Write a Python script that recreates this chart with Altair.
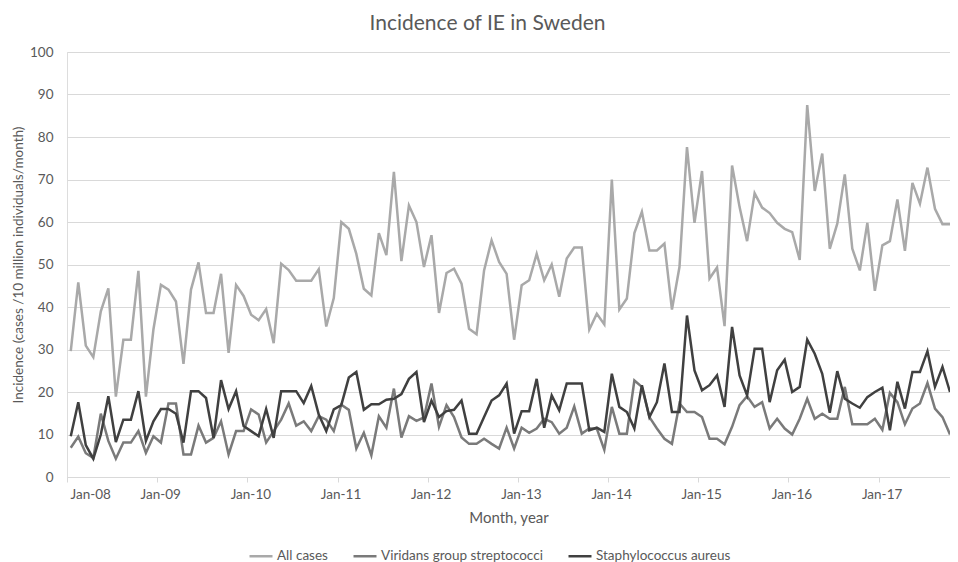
import altair as alt
import pandas as pd

months = list(range(118))

all_cases = [
    29.6, 45.8, 30.9, 28.2, 39.0, 44.4, 18.9, 32.3, 32.3, 48.5, 18.9, 34.7,
    45.2, 44.1, 41.3, 26.6, 44.1, 50.5, 38.6, 38.6, 47.8, 29.2, 45.2, 42.6,
    38.2, 36.9, 39.5, 31.5, 50.2, 48.7, 46.2, 46.2, 46.2, 48.9, 35.4, 42.1,
    60.0, 58.4, 52.5, 44.3, 42.7, 57.4, 52.2, 71.8, 50.8, 63.9, 60.0, 49.4,
    56.9, 38.6, 48.0, 49.0, 45.5, 34.9, 33.6, 48.6, 55.7, 50.6, 47.8, 32.3,
    45.1, 46.3, 52.5, 46.3, 50.0, 42.4, 51.4, 54.0, 54.0, 34.7, 38.4, 35.9,
    70.0, 39.4, 42.0, 57.4, 62.4, 53.3, 53.3, 54.9, 39.4, 49.4, 77.6, 59.8,
    72.0, 46.7, 49.3, 35.5, 73.3, 63.5, 55.5, 66.8, 63.4, 62.1, 59.8, 58.4,
    57.6, 51.1, 87.5, 67.3, 76.1, 53.7, 59.6, 71.2, 53.7, 48.6, 59.8, 43.8,
    54.5, 55.5, 65.3, 53.2, 69.2, 64.3, 72.8, 63.1, 59.5, 59.5,
]

viridans = [
    6.9, 9.5, 5.6, 4.5, 14.9, 8.5, 4.3, 8.1, 8.1, 10.8, 5.7, 9.6,
    8.1, 17.3, 17.3, 5.3, 5.3, 12.1, 8.1, 9.2, 13.1, 5.3, 10.8, 10.8,
    15.9, 14.7, 8.1, 10.8, 13.5, 17.3, 12.1, 13.1, 10.8, 14.3, 13.5, 10.8,
    17.0, 15.8, 6.7, 10.4, 5.1, 14.3, 11.6, 20.8, 9.3, 14.3, 13.2, 14.0,
    22.0, 11.8, 16.9, 14.1, 9.3, 7.8, 7.8, 9.0, 7.8, 6.7, 11.6, 6.7,
    11.6, 10.4, 11.4, 13.7, 12.9, 10.2, 11.6, 16.6, 10.2, 11.4, 11.4, 6.4,
    16.5, 10.2, 10.2, 22.7, 21.2, 14.1, 11.4, 9.0, 7.8, 17.3, 15.3, 15.3,
    14.1, 9.0, 9.0, 7.7, 11.8, 16.9, 19.0, 16.5, 17.6, 11.4, 13.7, 11.4,
    10.0, 13.7, 18.4, 13.7, 14.9, 13.7, 13.7, 21.2, 12.4, 12.4, 12.4, 13.7,
    11.1, 19.8, 17.6, 12.4, 16.1, 17.3, 22.1, 16.1, 14.1, 10.0,
]

staph = [
    9.6, 17.6, 7.5, 4.3, 10.0, 19.0, 8.2, 13.5, 13.5, 20.2, 8.5, 13.1,
    16.0, 16.0, 14.9, 8.1, 20.2, 20.2, 18.6, 9.2, 22.8, 16.0, 20.2, 12.0,
    10.8, 9.6, 16.0, 9.2, 20.2, 20.2, 20.2, 17.4, 21.4, 14.7, 10.8, 15.9,
    16.9, 23.4, 24.7, 15.8, 17.1, 17.1, 18.2, 18.4, 19.5, 23.1, 24.7, 12.9,
    18.0, 14.1, 15.5, 15.8, 18.0, 10.2, 10.2, 14.1, 18.0, 19.2, 22.0, 10.2,
    15.5, 15.5, 23.1, 11.6, 19.2, 15.7, 22.0, 22.0, 22.0, 11.0, 11.6, 10.6,
    24.3, 16.5, 15.3, 11.4, 21.6, 14.1, 17.6, 26.7, 15.3, 15.3, 38.0, 25.1,
    20.4, 21.6, 23.9, 16.5, 35.3, 23.9, 19.2, 30.2, 30.2, 17.6, 25.1, 27.6,
    20.0, 21.2, 32.3, 29.0, 24.3, 15.1, 24.9, 18.4, 17.3, 16.3, 18.8, 20.0,
    21.0, 11.0, 22.4, 16.1, 24.7, 24.7, 29.6, 21.2, 25.9, 20.0,
]

series_names = ["All cases", "Viridans group streptococci", "Staphylococcus aureus"]
series_colors = ["#a9a9a9", "#7a7a7a", "#404040"]
tick_labels = ["Jan-08", "Jan-09", "Jan-10", "Jan-11", "Jan-12",
               "Jan-13", "Jan-14", "Jan-15", "Jan-16", "Jan-17"]
tick_positions = [12 * i - 0.5 for i in range(len(tick_labels))]

rows = []
for name, vals in zip(series_names, [all_cases, viridans, staph]):
    for m, v in zip(months, vals):
        rows.append({"month": m, "value": v, "series": name})
df = pd.DataFrame(rows)

FONT = "Lato"
TXT = "#595959"
GRID = "#d9d9d9"

label_expr = "[" + ",".join("'%s'" % t for t in tick_labels) + "][round((datum.value + 0.5) / 12)]"

x = alt.X(
    "month:Q",
    scale=alt.Scale(domain=[-0.5, 117], nice=False, zero=False),
    axis=alt.Axis(
        values=tick_positions, labelExpr=label_expr, title="Month, year",
        grid=False, tickColor=GRID, tickSize=5, domainColor=GRID, domainWidth=1,
        labelOffset=3, labelPadding=5, titlePadding=10,
        labelFontSize=13.5, titleFontSize=15, labelColor=TXT, titleColor=TXT,
        titleFontWeight="normal", labelFont=FONT, titleFont=FONT,
    ),
)
y = alt.Y(
    "value:Q",
    scale=alt.Scale(domain=[0, 100], nice=False),
    axis=alt.Axis(
        values=list(range(0, 101, 10)),
        title="Incidence (cases /10 million individuals/month)",
        domain=False, ticks=False, gridColor=GRID, gridWidth=1,
        labelPadding=14, titlePadding=4,
        labelFontSize=13.5, titleFontSize=13.5, labelColor=TXT, titleColor=TXT,
        titleFontWeight="normal", labelFont=FONT, titleFont=FONT,
    ),
)
color = alt.Color(
    "series:N",
    scale=alt.Scale(domain=series_names, range=series_colors),
    legend=alt.Legend(
        title=None, orient="none", direction="horizontal",
        legendX=181, legendY=491, symbolType="stroke", symbolStrokeWidth=2.5,
        symbolSize=529, labelOffset=3, columnPadding=20, labelLimit=400,
        labelFontSize=13.5, labelColor=TXT, labelFont=FONT,
    ),
)

base = alt.Chart(df).mark_line(strokeWidth=2.5).encode(x=x, y=y, color=color)
layers = [base.transform_filter(alt.datum.series == n) for n in series_names]

chart = (
    alt.layer(*layers)
    .properties(
        width=883,
        height=425,
        title=alt.TitleParams(
            "Incidence of IE in Sweden", fontSize=21, font=FONT, color=TXT,
            fontWeight="normal", anchor="middle", offset=11, dx=-21,
        ),
        autosize=alt.AutoSizeParams(type="none"),
        padding={"left": 59, "top": 44, "right": 0, "bottom": 86},
    )
    .configure_view(stroke=None)
    .configure(font=FONT)
)

chart.save("out.html", embed_options={"renderer": "svg", "actions": False})
